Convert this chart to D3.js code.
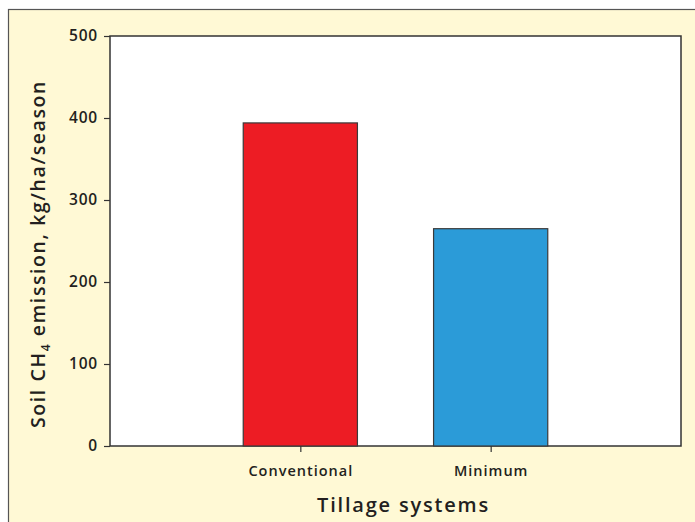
<!DOCTYPE html>
<html><head><meta charset="utf-8">
<script src="https://cdn.jsdelivr.net/npm/d3@7"></script>
<style>body{margin:0;background:#fff}svg{display:block}</style>
</head><body>
<script>
const categories = ["Conventional", "Minimum"];
const values = [394, 265];
const barColors = ["#ED1C24", "#2B9BD8"];
const yTicks = [0, 100, 200, 300, 400, 500];
const xTitle = "Tillage systems";

const W = 695, H = 522;
const m = {left: 110, top: 36, right: 681, bottom: 446};
const font = "'Open Sans', Lato, sans-serif";
const txt = "#231F20";

const svg = d3.select("body").append("svg").attr("width", W).attr("height", H);
svg.append("rect").attr("x", 8.5).attr("y", 9.5).attr("width", W).attr("height", H)
  .attr("fill", "#FFF9D5").attr("stroke", "#555").attr("stroke-width", 1.2);

const x = d3.scalePoint().domain(categories).range([m.left, m.right]).padding(1);
const y = d3.scaleLinear().domain([0, 500]).range([m.bottom, m.top]);
const bw = x.step() * 0.6;

svg.append("rect").attr("x", m.left).attr("y", m.top).attr("width", m.right - m.left)
  .attr("height", m.bottom - m.top).attr("fill", "#fff").attr("stroke", "#333").attr("stroke-width", 1.5);

svg.selectAll(".bar").data(categories).enter().append("rect")
  .attr("x", d => x(d) - bw / 2).attr("width", bw)
  .attr("y", (d, i) => y(values[i])).attr("height", (d, i) => y(0) - y(values[i]))
  .attr("fill", (d, i) => barColors[i]).attr("stroke", "#3a3a3a").attr("stroke-width", 1.2);

const ya = svg.append("g").attr("transform", `translate(${m.left},0)`)
  .call(d3.axisLeft(y).tickValues(yTicks).tickSize(6).tickPadding(6));
const xa = svg.append("g").attr("transform", `translate(0,${m.bottom})`)
  .call(d3.axisBottom(x).tickSize(6).tickPadding(14));
[ya, xa].forEach(g => {
  g.select(".domain").remove();
  g.selectAll("line").attr("stroke", "#333").attr("stroke-width", 1.2);
  g.selectAll("text").attr("fill", txt).style("font-family", font).style("font-weight", 600)
    .style("font-size", "14.5px").style("letter-spacing", "1px");
});
ya.selectAll("text").style("font-size", "15.5px").style("letter-spacing", "0.8px");

svg.append("text").attr("x", (m.left + m.right) / 2 + 8).attr("y", 512).attr("text-anchor", "middle")
  .attr("fill", txt).style("font-family", font).style("font-weight", 600).style("font-size", "20px")
  .style("letter-spacing", "1.8px").text(xTitle);

const yt = svg.append("text").attr("transform", `translate(45,${(m.top + m.bottom) / 2 + 13}) rotate(-90)`)
  .attr("text-anchor", "middle").attr("fill", txt).style("font-family", font)
  .style("font-weight", 600).style("font-size", "19.5px").style("letter-spacing", "1.6px");
yt.append("tspan").text("Soil CH");
yt.append("tspan").attr("dy", 5).style("font-size", "12px").text("4");
yt.append("tspan").attr("dy", -5).text(" emission, kg/ha/season");
</script>
</body></html>
